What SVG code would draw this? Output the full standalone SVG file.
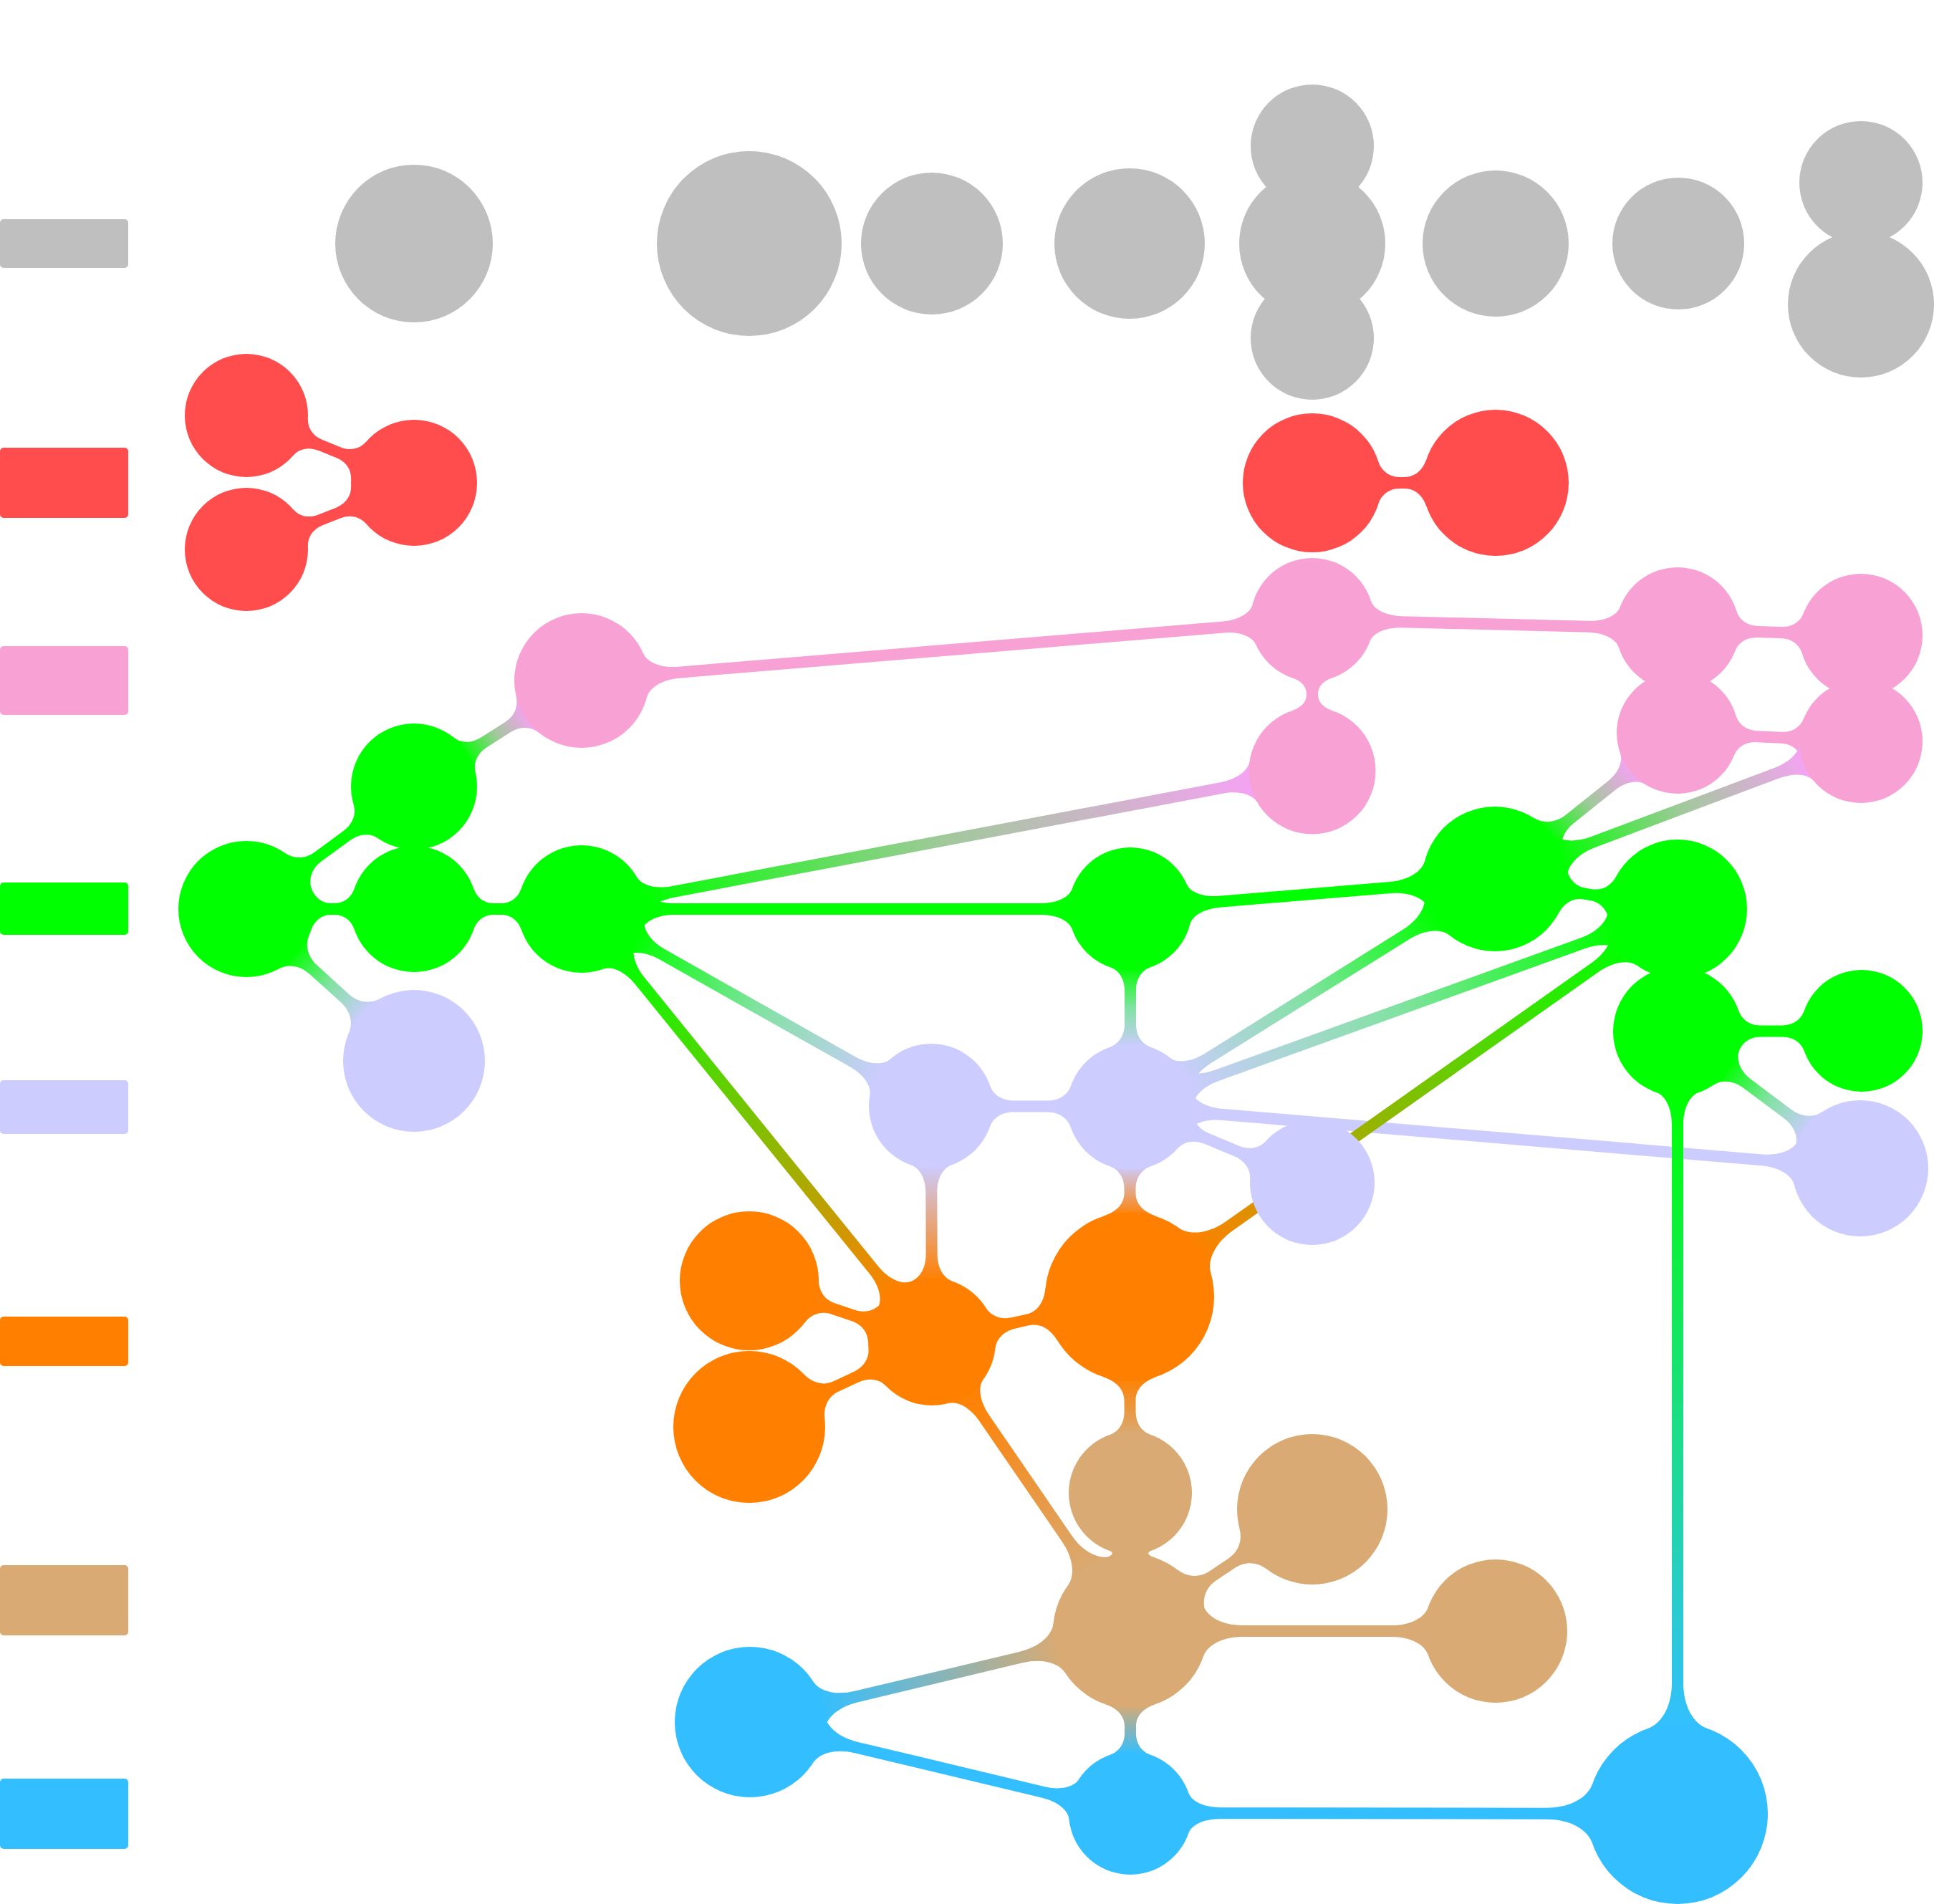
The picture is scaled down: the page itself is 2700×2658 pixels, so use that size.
<svg xmlns="http://www.w3.org/2000/svg" width="2700" height="2658" viewBox="0 0 2700 2658">
<defs>
<style>
.gy{fill:#bfbfbf}.rd{fill:#ff4d4d}.pk{fill:#f7a1d4}.gr{fill:#00ff00}.lv{fill:#ccccff}.or{fill:#ff8000}.tn{fill:#d9aa73}.bl{fill:#33bfff}
</style>
<linearGradient id="g-gp"><stop offset="0" stop-color="#00ff00"/><stop offset="0.5" stop-color="#a2c89c"/><stop offset="1" stop-color="#f5a3f3"/></linearGradient>
<linearGradient id="g-gl"><stop offset="0" stop-color="#00ff00"/><stop offset="0.5" stop-color="#80e2a0"/><stop offset="1" stop-color="#ccccff"/></linearGradient>
<linearGradient id="g-go"><stop offset="0" stop-color="#00ff00"/><stop offset="1" stop-color="#ff8000"/></linearGradient>
<linearGradient id="g-gb"><stop offset="0" stop-color="#00ff00"/><stop offset="1" stop-color="#33bfff"/></linearGradient>
<linearGradient id="g-lo"><stop offset="0" stop-color="#ccccff"/><stop offset="1" stop-color="#ff8000"/></linearGradient>
<linearGradient id="g-ot"><stop offset="0" stop-color="#ff8000"/><stop offset="1" stop-color="#d9aa73"/></linearGradient>
<linearGradient id="g-tb"><stop offset="0" stop-color="#d9aa73"/><stop offset="1" stop-color="#33bfff"/></linearGradient>
</defs>
<rect x="0" y="0" width="2700" height="2658" fill="#ffffff"/>
<g id="legend">
<rect class="gy" x="0" y="306" width="179" height="68" rx="5"/>
<rect class="rd" x="0" y="625" width="179" height="98" rx="5"/>
<rect class="pk" x="0" y="902" width="179" height="96" rx="5"/>
<rect class="gr" x="0" y="1232" width="179" height="73" rx="5"/>
<rect class="lv" x="0" y="1508" width="179" height="75" rx="5"/>
<rect class="or" x="0" y="1838" width="179" height="69" rx="5"/>
<rect class="tn" x="0" y="2185" width="179" height="98" rx="5"/>
<rect class="bl" x="0" y="2483" width="179" height="98" rx="5"/>
</g>
<g id="connectors">
<path class="rd" transform="translate(344 580) rotate(21.88)" d="M81.3,28 C84.9,17.6 94.8,8 111.2,8 L139,8 C155.5,8 165.3,17.9 169,28.7 L169,-28.7 C165.3,-17.9 155.5,-8 139,-8 L111.2,-8 C94.8,-8 84.9,-17.6 81.3,-28 Z"/>
<path class="rd" transform="translate(344 767) rotate(-21.67)" d="M81.3,28 C84.9,17.6 94.8,8 111.2,8 L138.6,8 C155.1,8 164.9,17.9 168.6,28.7 L168.6,-28.7 C164.9,-17.9 155.1,-8 138.6,-8 L111.2,-8 C94.8,-8 84.9,-17.6 81.3,-28 Z"/>
<path class="rd" transform="translate(1832 674)" d="M91.2,31.4 C95.4,19.2 105.1,8 122.1,8 L128.4,8 C145.5,8 155,20.1 159.6,33.2 L159.6,-33.2 C155,-20.1 145.5,-8 128.4,-8 L122.1,-8 C105.1,-8 95.4,-19.2 91.2,-31.4 Z"/>
<path class="pk" transform="translate(1832 865) rotate(90)" d="M81.3,28 C84.9,17.6 91.6,8 104.25,8 C116.9,8 123.6,18 127.3,28.8 L127.3,-28.8 C123.6,-18 116.9,-8 104.25,-8 C91.6,-8 84.9,-17.6 81.3,-28 Z"/>
<path class="pk" transform="translate(2342 878) rotate(2.01)" d="M81.3,28 C84.9,17.6 94.9,8 111.6,8 L144.6,8 C161.3,8 171.3,17.6 174.9,28 L174.9,-28 C171.3,-17.6 161.3,-8 144.6,-8 L111.6,-8 C94.9,-8 84.9,-17.6 81.3,-28 Z"/>
<path class="pk" transform="translate(2342 1023) rotate(2.68)" d="M80.4,27.7 C83.9,17.5 94,8 110.6,8 L144.7,8 C161.4,8 171.4,17.6 175,28 L175,-28 C171.4,-17.6 161.4,-8 144.7,-8 L110.6,-8 C94,-8 83.9,-17.5 80.4,-27.7 Z"/>
<path class="pk" transform="translate(812 950) rotate(-4.76)" d="M88.9,30.6 C92.9,18.9 110.2,8 136.3,8 L898.8,8 C922.7,8 938.6,17.6 942.2,28 L942.2,-28 C938.6,-17.6 922.7,-8 898.8,-8 L136.3,-8 C110.2,-8 92.9,-18.9 88.9,-30.6 Z"/>
<path class="pk" transform="translate(1832 865) rotate(1.46)" d="M81.3,28 C84.9,17.6 100.8,8 124.7,8 L385.5,8 C409.4,8 425.3,17.6 428.9,28 L428.9,-28 C425.3,-17.6 409.4,-8 385.5,-8 L124.7,-8 C100.8,-8 84.9,-17.6 81.3,-28 Z"/>
<path fill="url(#g-gp)" transform="translate(578 1098) rotate(-32.31)" d="M83.2,28.7 C86.9,17.9 97.8,8 115.7,8 L155.2,8 C173.3,8 184,18.9 188,30.6 L188,-30.6 C184,-18.9 173.3,-8 155.2,-8 L115.7,-8 C97.8,-8 86.9,-17.9 83.2,-28.7 Z"/>
<path fill="url(#g-gp)" transform="translate(812 1269) rotate(-10.71)" d="M84.2,29 C87.9,18.1 104.4,8 129,8 L909.8,8 C934.3,8 950.7,18 954.4,28.8 L954.4,-28.8 C950.7,-18 934.3,-8 909.8,-8 L129,-8 C104.4,-8 87.9,-18.1 84.2,-29 Z"/>
<path fill="url(#g-gp)" transform="translate(2087 1227) rotate(-38.66)" d="M95.5,32.9 C100,20 112.7,8 133.7,8 L208.9,8 C229.4,8 242.7,17.5 246.2,27.7 L246.2,-27.7 C242.7,-17.5 229.4,-8 208.9,-8 L133.7,-8 C112.7,-8 100,-20 95.5,-32.9 Z"/>
<path fill="url(#g-gp)" transform="translate(2087 1227) rotate(-20.59)" d="M95.5,32.9 C100,20 118.4,8 146.5,8 L421.2,8 C445.1,8 461,17.6 464.6,28 L464.6,-28 C461,-17.6 445.1,-8 421.2,-8 L146.5,-8 C118.4,-8 100,-20 95.5,-32.9 Z"/>
<path class="gr" transform="translate(344 1269) rotate(-36.16)" d="M89.8,30.9 C93.9,19 105.2,8 124,8 L172.8,8 C191.4,8 202.9,17.9 206.6,28.7 L206.6,-28.7 C202.9,-17.9 191.4,-8 172.8,-8 L124,-8 C105.2,-8 93.9,-19 89.8,-30.9 Z"/>
<path class="gr" transform="translate(344 1269)" d="M89.8,30.9 C93.9,19 102.7,8 118.4,8 L122.6,8 C138.1,8 147.1,17.9 150.8,28.7 L150.8,-28.7 C147.1,-17.9 138.1,-8 122.6,-8 L118.4,-8 C102.7,-8 93.9,-19 89.8,-30.9 Z"/>
<path fill="url(#g-gl)" transform="translate(344 1269) rotate(42.18)" d="M89.8,30.9 C93.9,19 106.4,8 126.6,8 L185.2,8 C205.5,8 217.9,19.6 222.2,32.2 L222.2,-32.2 C217.9,-19.6 205.5,-8 185.2,-8 L126.6,-8 C106.4,-8 93.9,-19 89.8,-30.9 Z"/>
<path class="gr" transform="translate(578 1269)" d="M83.2,28.7 C86.9,17.9 95.9,8 111.4,8 L121.6,8 C137.1,8 146.1,18.1 149.8,29 L149.8,-29 C146.1,-18.1 137.1,-8 121.6,-8 L111.4,-8 C95.9,-8 86.9,-17.9 83.2,-28.7 Z"/>
<path class="gr" transform="translate(812 1269)" d="M84.2,29 C87.9,18.1 104.4,8 129,8 L641.3,8 C665.2,8 681.1,17.6 684.7,28 L684.7,-28 C681.1,-17.6 665.2,-8 641.3,-8 L129,-8 C104.4,-8 87.9,-18.1 84.2,-29 Z"/>
<path fill="url(#g-gl)" transform="translate(812 1269) rotate(29.40)" d="M84.2,29 C87.9,18.1 104.4,8 129,8 L434.1,8 C458.2,8 474.3,17.8 477.9,28.3 L477.9,-28.3 C474.3,-17.8 458.2,-8 434.1,-8 L129,-8 C104.4,-8 87.9,-18.1 84.2,-29 Z"/>
<path fill="url(#g-go)" transform="translate(812 1269) rotate(51.00)" d="M84.2,29 C87.9,18.1 104.4,8 129,8 L648.1,8 C672.7,8 689.2,18.1 692.9,29 L692.9,-29 C689.2,-18.1 672.7,-8 648.1,-8 L129,-8 C104.4,-8 87.9,-18.1 84.2,-29 Z"/>
<path class="gr" transform="translate(1578 1269) rotate(-4.72)" d="M81.3,28 C84.9,17.6 100.8,8 124.7,8 L364.3,8 C392.3,8 410.7,20 415.2,32.9 L415.2,-32.9 C410.7,-20 392.3,-8 364.3,-8 L124.7,-8 C100.8,-8 84.9,-17.6 81.3,-28 Z"/>
<path fill="url(#g-gl)" transform="translate(1578 1269) rotate(90)" d="M81.3,28 C84.9,17.6 95.8,8 113.6,8 L160.4,8 C178.2,8 189.1,17.9 192.8,28.7 L192.8,-28.7 C189.1,-17.9 178.2,-8 160.4,-8 L113.6,-8 C95.8,-8 84.9,-17.6 81.3,-28 Z"/>
<path class="gr" transform="translate(2087 1227) rotate(9.35)" d="M95.5,32.9 C100,20 109.6,8 126.8,8 L135.6,8 C152.7,8 162.5,19.3 166.7,31.6 L166.7,-31.6 C162.5,-19.3 152.7,-8 135.6,-8 L126.8,-8 C109.6,-8 100,-20 95.5,-32.9 Z"/>
<path fill="url(#g-gl)" transform="translate(2087 1227) rotate(148.0)" d="M95.5,32.9 C100,20 118.4,8 146.5,8 L472.6,8 C497,8 513.3,17.9 517,28.7 L517,-28.7 C513.3,-17.9 497,-8 472.6,-8 L146.5,-8 C118.4,-8 100,-20 95.5,-32.9 Z"/>
<path fill="url(#g-gl)" transform="translate(2342 1269) rotate(160.14)" d="M91.7,31.6 C95.9,19.3 113.7,8 140.7,8 L684.7,8 C709.1,8 725.4,17.9 729.1,28.7 L729.1,-28.7 C725.4,-17.9 709.1,-8 684.7,-8 L140.7,-8 C113.7,-8 95.9,-19.3 91.7,-31.6 Z"/>
<path class="lv" transform="translate(1578 1545) rotate(4.82)" d="M83.2,28.7 C86.9,17.9 103.2,8 127.6,8 L884.9,8 C911.2,8 928.7,19 932.8,30.9 L932.8,-30.9 C928.7,-19 911.2,-8 884.9,-8 L127.6,-8 C103.2,-8 86.9,-17.9 83.2,-28.7 Z"/>
<path fill="url(#g-go)" transform="translate(2342 1269) rotate(144.73)" d="M91.7,31.6 C95.9,19.3 113.7,8 140.7,8 L765.9,8 C798.6,8 820,22.6 825.4,38.4 L825.4,-38.4 C820,-22.6 798.6,-8 765.9,-8 L140.7,-8 C113.7,-8 95.9,-19.3 91.7,-31.6 Z"/>
<path class="gr" transform="translate(2342 1440) rotate(-0.22)" d="M85.1,29.3 C88.9,18.2 98.9,8 115.7,8 L146.3,8 C163,8 173.1,17.5 176.6,27.7 L176.6,-27.7 C173.1,-17.5 163,-8 146.3,-8 L115.7,-8 C98.9,-8 88.9,-18.2 85.1,-29.3 Z"/>
<path fill="url(#g-gl)" transform="translate(2342 1440) rotate(36.83)" d="M85.1,29.3 C88.9,18.2 101.7,8 121.9,8 L191.7,8 C212.1,8 224.7,19 228.8,30.9 L228.8,-30.9 C224.7,-19 212.1,-8 191.7,-8 L121.9,-8 C101.7,-8 88.9,-18.2 85.1,-29.3 Z"/>
<path fill="url(#g-gb)" transform="translate(2342 1440) rotate(90)" d="M85.1,29.3 C88.9,18.2 105.5,8 130.5,8 L909.3,8 C944.3,8 966.9,23.9 972.9,41 L972.9,-41 C966.9,-23.9 944.3,-8 909.3,-8 L130.5,-8 C105.5,-8 88.9,-18.2 85.1,-29.3 Z"/>
<path class="lv" transform="translate(1300 1544) rotate(0.21)" d="M82.3,28.3 C85.9,17.8 96.9,8 114.8,8 L162.2,8 C180.1,8 191.1,17.9 194.8,28.7 L194.8,-28.7 C191.1,-17.9 180.1,-8 162.2,-8 L114.8,-8 C96.9,-8 85.9,-17.8 82.3,-28.3 Z"/>
<path fill="url(#g-lo)" transform="translate(1300 1544) rotate(89.83)" d="M82.3,28.3 C85.9,17.8 99.2,8 119.9,8 L207.1,8 C227.9,8 241.1,18.1 244.8,29 L244.8,-29 C241.1,-18.1 227.9,-8 207.1,-8 L119.9,-8 C99.2,-8 85.9,-17.8 82.3,-28.3 Z"/>
<path fill="url(#g-lo)" transform="translate(1578 1545) rotate(90.22)" d="M83.2,28.7 C86.9,17.9 97.3,8 114.5,8 L120.5,8 C138.6,8 148,22.6 153.4,38.4 L153.4,-38.4 C148,-22.6 138.6,-8 120.5,-8 L114.5,-8 C97.3,-8 86.9,-17.9 83.2,-28.7 Z"/>
<path class="lv" transform="translate(1578 1545) rotate(22.65)" d="M83.2,28.7 C86.9,17.9 97.7,8 115.5,8 L160.7,8 C178.4,8 189.3,17.8 192.9,28.3 L192.9,-28.3 C189.3,-17.8 178.4,-8 160.7,-8 L115.5,-8 C97.7,-8 86.9,-17.9 83.2,-28.7 Z"/>
<path class="or" transform="translate(1046 1788) rotate(18.43)" d="M91.7,31.6 C95.9,19.3 106.2,8 123.9,8 L152.9,8 C170.4,8 180.9,18.1 184.6,29 L184.6,-29 C180.9,-18.1 170.4,-8 152.9,-8 L123.9,-8 C106.2,-8 95.9,-19.3 91.7,-31.6 Z"/>
<path class="or" transform="translate(1046 1992) rotate(-25.02)" d="M100.2,34.5 C105,20.7 115.5,8 134.1,8 L164.3,8 C182.4,8 193.5,18.1 197.2,29 L197.2,-29 C193.5,-18.1 182.4,-8 164.3,-8 L134.1,-8 C115.5,-8 105,-20.7 100.2,-34.5 Z"/>
<path class="or" transform="translate(1301 1873) rotate(-12.86)" d="M84.2,29 C87.9,18.1 99.1,8 117.3,8 L136.8,8 C155.9,8 166.1,22.6 171.5,38.4 L171.5,-38.4 C166.1,-22.6 155.9,-8 136.8,-8 L117.3,-8 C99.1,-8 87.9,-18.1 84.2,-29 Z"/>
<path fill="url(#g-ot)" transform="translate(1301 1873) rotate(55.57)" d="M84.2,29 C87.9,18.1 104.4,8 129,8 L333.2,8 C363.2,8 382.8,21 387.7,35.2 L387.7,-35.2 C382.8,-21 363.2,-8 333.2,-8 L129,-8 C104.4,-8 87.9,-18.1 84.2,-29 Z"/>
<path fill="url(#g-ot)" transform="translate(1577 1810) rotate(89.79)" d="M111.6,38.4 C117,22.6 126.8,8 145.4,8 L160.6,8 C178.2,8 189.1,17.6 192.7,28 L192.7,-28 C189.1,-17.6 178.2,-8 160.6,-8 L145.4,-8 C126.8,-8 117,-22.6 111.6,-38.4 Z"/>
<path class="tn" transform="translate(1578 2084) rotate(90)" d="M81.3,28 Q86,20 90.9,35.2 L90.9,-35.2 Q86,-20 81.3,-28 Z"/>
<path class="tn" transform="translate(1578 2277) rotate(-33.80)" d="M102.1,35.2 C107,21 118.5,8 138.6,8 L170,8 C190,8 201.6,20.6 206.3,34.2 L206.3,-34.2 C201.6,-20.6 190,-8 170,-8 L138.6,-8 C118.5,-8 107,-21 102.1,-35.2 Z"/>
<path class="tn" transform="translate(1578 2277)" d="M102.1,35.2 C107,21 126.6,8 156.6,8 L365,8 C392.7,8 411,19.8 415.4,32.6 L415.4,-32.6 C411,-19.8 392.7,-8 365,-8 L156.6,-8 C126.6,-8 107,-21 102.1,-35.2 Z"/>
<path fill="url(#g-tb)" transform="translate(1578 2277) rotate(166.55)" d="M102.1,35.2 C107,21 126.6,8 156.6,8 L393.8,8 C422.9,8 442,20.6 446.7,34.2 L446.7,-34.2 C442,-20.6 422.9,-8 393.8,-8 L156.6,-8 C126.6,-8 107,-21 102.1,-35.2 Z"/>
<path fill="url(#g-tb)" transform="translate(1578 2277) rotate(90)" d="M102.1,35.2 C107,21 116.2,8 133.4,8 L142.6,8 C159.1,8 169.1,17.6 172.7,28 L172.7,-28 C169.1,-17.6 159.1,-8 142.6,-8 L133.4,-8 C116.2,-8 107,-21 102.1,-35.2 Z"/>
<path class="bl" transform="translate(1047 2404) rotate(13.45)" d="M99.3,34.2 C104,20.6 123.1,8 152.3,8 L421.3,8 C445.2,8 461.1,17.6 464.7,28 L464.7,-28 C461.1,-17.6 445.2,-8 421.3,-8 L152.3,-8 C123.1,-8 104,-20.6 99.3,-34.2 Z"/>
<path class="bl" transform="translate(1578 2531) rotate(0.075)" d="M81.3,28 C84.9,17.6 100.8,8 124.7,8 L581.3,8 C616.3,8 638.9,23.9 644.9,41 L644.9,-41 C638.9,-23.9 616.3,-8 581.3,-8 L124.7,-8 C100.8,-8 84.9,-17.6 81.3,-28 Z"/>
</g>
<g id="nodes">
<g id="gray-1"><circle class="gy" cx="578" cy="340" r="110"/></g>
<g id="gray-2"><circle class="gy" cx="1046" cy="340" r="129"/></g>
<g id="gray-3"><circle class="gy" cx="1301" cy="340" r="99"/></g>
<g id="gray-4"><circle class="gy" cx="1577" cy="340" r="105"/></g>
<g id="gray-5"><circle class="gy" cx="1832" cy="204" r="86"/></g>
<g id="gray-6"><circle class="gy" cx="1832" cy="340" r="102"/></g>
<g id="gray-7"><circle class="gy" cx="1832" cy="472" r="86"/></g>
<g id="gray-8"><circle class="gy" cx="2088" cy="340" r="102"/></g>
<g id="gray-9"><circle class="gy" cx="2343" cy="340" r="92"/></g>
<g id="gray-10"><circle class="gy" cx="2598" cy="255" r="86"/></g>
<g id="gray-11"><circle class="gy" cx="2598" cy="425" r="102"/></g>
<g id="red-1"><circle class="rd" cx="344" cy="580" r="86"/></g>
<g id="red-2"><circle class="rd" cx="344" cy="767" r="86"/></g>
<g id="red-3"><circle class="rd" cx="578" cy="674" r="88"/></g>
<g id="red-4"><circle class="rd" cx="1832" cy="674" r="97"/></g>
<g id="red-5"><circle class="rd" cx="2088" cy="674" r="102"/></g>
<g id="pink-1"><circle class="pk" cx="812" cy="950" r="94"/></g>
<g id="pink-2"><circle class="pk" cx="1832" cy="865" r="86"/></g>
<g id="pink-3"><circle class="pk" cx="1832" cy="1076" r="88.5"/></g>
<g id="pink-4"><circle class="pk" cx="2342" cy="878" r="86"/></g>
<g id="pink-5"><circle class="pk" cx="2598" cy="887" r="86"/></g>
<g id="pink-6"><circle class="pk" cx="2342" cy="1023" r="85"/></g>
<g id="pink-7"><circle class="pk" cx="2598" cy="1035" r="86"/></g>
<g id="green-1"><circle class="gr" cx="344" cy="1269" r="95"/></g>
<g id="green-2"><circle class="gr" cx="578" cy="1098" r="88"/></g>
<g id="green-3"><circle class="gr" cx="578" cy="1269" r="88"/></g>
<g id="green-4"><circle class="gr" cx="812" cy="1269" r="89"/></g>
<g id="green-5"><circle class="gr" cx="1578" cy="1269" r="86"/></g>
<g id="green-6"><circle class="gr" cx="2087" cy="1227" r="101"/></g>
<g id="green-7"><circle class="gr" cx="2342" cy="1269" r="97"/></g>
<g id="green-8"><circle class="gr" cx="2342" cy="1440" r="90"/></g>
<g id="green-9"><circle class="gr" cx="2599" cy="1439" r="85"/></g>
<g id="lav-1"><circle class="lv" cx="578" cy="1481" r="99"/></g>
<g id="lav-2"><circle class="lv" cx="1300" cy="1544" r="87"/></g>
<g id="lav-3"><circle class="lv" cx="1578" cy="1545" r="88"/></g>
<g id="lav-4"><circle class="lv" cx="1832" cy="1651" r="87"/></g>
<g id="lav-5"><circle class="lv" cx="2597" cy="1631" r="95"/></g>
<g id="orange-1"><circle class="or" cx="1046" cy="1788" r="97"/></g>
<g id="orange-2"><circle class="or" cx="1301" cy="1873" r="89"/></g>
<g id="orange-3"><circle class="or" cx="1577" cy="1810" r="118"/></g>
<g id="orange-4"><circle class="or" cx="1046" cy="1992" r="106"/></g>
<g id="tan-1"><circle class="tn" cx="1578" cy="2084" r="86"/></g>
<g id="tan-2"><circle class="tn" cx="1578" cy="2277" r="108"/></g>
<g id="tan-3"><circle class="tn" cx="1832" cy="2107" r="105"/></g>
<g id="tan-4"><circle class="tn" cx="2088" cy="2277" r="100"/></g>
<g id="blue-1"><circle class="bl" cx="1047" cy="2404" r="105"/></g>
<g id="blue-2"><circle class="bl" cx="1578" cy="2531" r="86"/></g>
<g id="blue-3"><circle class="bl" cx="2342" cy="2532" r="126"/></g>
</g>
</svg>
